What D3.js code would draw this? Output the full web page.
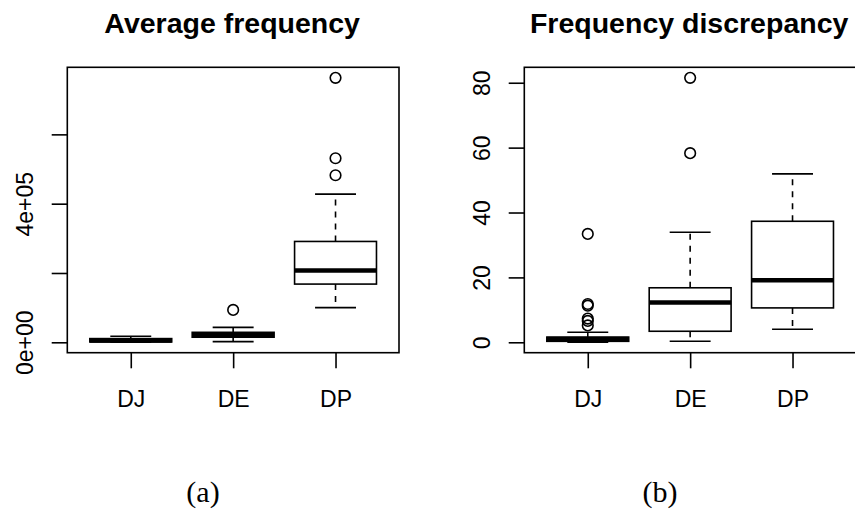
<!DOCTYPE html>
<html>
<head>
<meta charset="utf-8">
<script src="https://cdn.jsdelivr.net/npm/d3@7"></script>
<style>
  body { margin: 0; background: #fff; }
  svg { display: block; }
  text { font-family: "Liberation Sans", Arial, Helvetica, sans-serif; fill: #000; }
  .title { font-weight: bold; font-size: 28.5px; }
  .tick text { font-size: 23px; }
  .caption { font-family: "Liberation Serif", "Times New Roman", serif; font-size: 30px; }
</style>
</head>
<body>
<div id="chart"></div>
<script>
/* box plot stats: whisker low, Q1, median, Q3, whisker high */
var categories = ["DJ", "DE", "DP"];

var avgLow    = [500, 2000, 100000];
var avgQ1     = [1000, 14700, 168000];
var avgMedian = [4900, 21600, 207500];
var avgQ3     = [10700, 28800, 291000];
var avgHigh   = [17300, 43200, 427700];
var avgOut    = [[], [93500], [482000, 531000, 763000]];
var avgTicks  = [0, 200000, 400000, 600000];
var avgLabels = ["0e+00", "", "4e+05", ""];   /* R drops the crowded labels */

var discLow    = [0.05, 0.3, 4.0];
var discQ1     = [0.3, 3.4, 10.6];
var discMedian = [1.0, 12.3, 19.1];
var discQ3     = [1.6, 16.8, 37.3];
var discHigh   = [3.1, 33.9, 51.9];
var discOut    = [[33.4, 11.8, 11.3, 7.3, 6.6, 5.2], [58.3, 81.5], []];
var discTicks  = [0, 20, 40, 60, 80];
var discLabels = ["0", "20", "40", "60", "80"];

var width = 855, height = 510;
var top0 = 67.3, bottom0 = 352.7;
var tickLen = 15.6, lw = 1.6;

function translate(x, y) {
    return "translate(" + x + "," + y + ")";
}

var svg = d3.select("#chart").append("svg")
    .attr("width", width)
    .attr("height", height);

function boxplot(opt) {
    /* R style: x runs 0.5..n+0.5, both axes padded by 4% */
    var n = categories.length;
    var x = d3.scaleLinear()
        .domain([0.5 - 0.04 * n, n + 0.5 + 0.04 * n])
        .range([opt.left, opt.right]);

    var all = opt.low.concat(opt.high, d3.merge(opt.out));
    var lo = d3.min(all), hi = d3.max(all), pad = 0.04 * (hi - lo);
    var y = d3.scaleLinear()
        .domain([lo - pad, hi + pad])
        .range([bottom0, top0]);

    var g = svg.append("g");
    var boxW = x(1.4) - x(1), capW = x(1.2) - x(1);

    var bx = g.selectAll("g.box")
        .data(categories)
      .enter().append("g")
        .attr("class", "box");

    /* dashed whiskers */
    bx.append("line")
        .attr("x1", function(d, i) { return x(i + 1); })
        .attr("x2", function(d, i) { return x(i + 1); })
        .attr("y1", function(d, i) { return y(opt.q3[i]); })
        .attr("y2", function(d, i) { return y(opt.high[i]); })
        .attr("stroke", "#000").attr("stroke-width", lw)
        .attr("stroke-dasharray", "6,6");
    bx.append("line")
        .attr("x1", function(d, i) { return x(i + 1); })
        .attr("x2", function(d, i) { return x(i + 1); })
        .attr("y1", function(d, i) { return y(opt.q1[i]); })
        .attr("y2", function(d, i) { return y(opt.low[i]); })
        .attr("stroke", "#000").attr("stroke-width", lw)
        .attr("stroke-dasharray", "6,6");

    /* staples */
    [opt.high, opt.low].forEach(function(arr) {
        bx.append("line")
            .attr("x1", function(d, i) { return x(i + 1) - capW; })
            .attr("x2", function(d, i) { return x(i + 1) + capW; })
            .attr("y1", function(d, i) { return y(arr[i]); })
            .attr("y2", function(d, i) { return y(arr[i]); })
            .attr("stroke", "#000").attr("stroke-width", lw);
    });

    /* box */
    bx.append("rect")
        .attr("x", function(d, i) { return x(i + 1) - boxW; })
        .attr("width", 2 * boxW)
        .attr("y", function(d, i) { return y(opt.q3[i]); })
        .attr("height", function(d, i) { return y(opt.q1[i]) - y(opt.q3[i]); })
        .attr("fill", "#fff")
        .attr("stroke", "#000").attr("stroke-width", lw);

    /* median */
    bx.append("line")
        .attr("x1", function(d, i) { return x(i + 1) - boxW; })
        .attr("x2", function(d, i) { return x(i + 1) + boxW; })
        .attr("y1", function(d, i) { return y(opt.median[i]); })
        .attr("y2", function(d, i) { return y(opt.median[i]); })
        .attr("stroke", "#000").attr("stroke-width", 4.5);

    /* outliers */
    var pts = [];
    opt.out.forEach(function(list, i) {
        list.forEach(function(v) { pts.push({i: i, v: v}); });
    });
    g.selectAll("circle")
        .data(pts)
      .enter().append("circle")
        .attr("cx", function(d) { return x(d.i + 1); })
        .attr("cy", function(d) { return y(d.v); })
        .attr("r", 5.3)
        .attr("fill", "none")
        .attr("stroke", "#000").attr("stroke-width", lw);

    /* frame */
    g.append("rect")
        .attr("x", opt.left).attr("y", top0)
        .attr("width", opt.right - opt.left)
        .attr("height", bottom0 - top0)
        .attr("fill", "none")
        .attr("stroke", "#000").attr("stroke-width", lw);

    /* Y axis, labels rotated like R's las=0 */
    var yAxis = d3.axisLeft(y)
        .tickValues(opt.ticks)
        .tickSize(tickLen)
        .tickSizeOuter(0)
        .tickFormat(function(d, i) { return opt.labels[i]; });
    var ya = g.append("g")
        .attr("transform", translate(opt.left, 0))
        .call(yAxis);
    ya.select(".domain").remove();
    ya.selectAll("line").attr("stroke-width", lw);
    ya.selectAll("text")
        .attr("x", null).attr("y", null).attr("dy", null)
        .attr("text-anchor", "middle")
        .attr("transform", translate(-34, 0) + " rotate(-90)");

    /* X axis */
    var xAxis = d3.axisBottom(x)
        .tickValues([1, 2, 3])
        .tickSize(tickLen)
        .tickSizeOuter(0)
        .tickFormat(function(d) { return categories[d - 1]; });
    var xa = g.append("g")
        .attr("transform", translate(0, bottom0))
        .call(xAxis);
    xa.select(".domain").remove();
    xa.selectAll("line").attr("stroke-width", lw);
    xa.selectAll("text")
        .attr("y", 54).attr("dy", null);

    /* title and caption */
    g.append("text")
        .attr("class", "title")
        .attr("x", (opt.left + opt.right) / 2 - 1)
        .attr("y", 33)
        .attr("text-anchor", "middle")
        .text(opt.title);

    g.append("text")
        .attr("class", "caption")
        .attr("x", opt.capX)
        .attr("y", 502)
        .attr("text-anchor", "middle")
        .text(opt.caption);
}

boxplot({left: 67.3, right: 399, low: avgLow, q1: avgQ1, median: avgMedian, q3: avgQ3,
         high: avgHigh, out: avgOut, ticks: avgTicks, labels: avgLabels,
         title: "Average frequency", caption: "(a)", capX: 203});

boxplot({left: 524.3, right: 856, low: discLow, q1: discQ1, median: discMedian, q3: discQ3,
         high: discHigh, out: discOut, ticks: discTicks, labels: discLabels,
         title: "Frequency discrepancy", caption: "(b)", capX: 660});
</script>
</body>
</html>
